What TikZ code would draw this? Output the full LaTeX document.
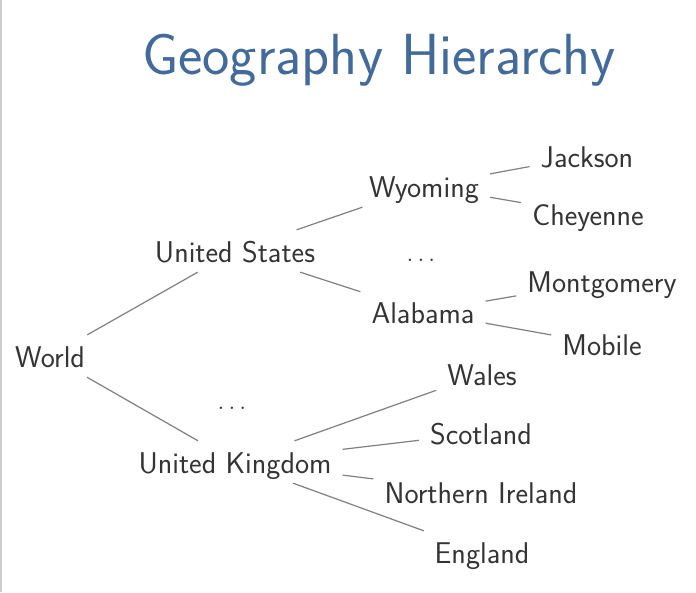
\documentclass[tikz,border=0pt]{standalone}
\definecolor{titleblue}{RGB}{66,106,154}
\definecolor{nodetext}{RGB}{52,52,52}
\definecolor{edgegray}{RGB}{128,128,128}
\definecolor{framegray}{RGB}{205,205,205}
\begin{document}
\begin{tikzpicture}[x=1pt,y=-1pt,
  place/.style={anchor=base,text=nodetext,font=\sffamily\fontsize{30}{36}\selectfont,
    text height=22pt,text depth=0pt,inner xsep=11pt,inner ysep=10pt},
  link/.style={draw=edgegray,line width=1.2pt},
  titletext/.style={anchor=base,text=titleblue,font=\sffamily\fontsize{58}{66}\selectfont,inner sep=0pt}]
\useasboundingbox (0,0) rectangle (696,592);
\fill[white] (0,0) rectangle (696,592);
\draw[framegray,line width=1.5pt] (0.75,0) -- (0.75,592);
\node[titletext] (title) at (379,74) {Geography Hierarchy};
% nodes
\node[place] (world) at (50,367) {World};
\node[place] (us) at (235,262) {United States};
\node[place] (uk) at (235,473) {United Kingdom};
\node[place] (dotsA) at (232,409) {$\ldots$};
\node[place] (wy) at (424,197) {Wyoming};
\node[place] (al) at (423,323) {Alabama};
\node[place] (dotsB) at (421,261) {$\ldots$};
\node[place] (jack) at (587,167) {Jackson};
\node[place] (chey) at (588,225) {Cheyenne};
\node[place] (mont) at (602,292) {Montgomery};
\node[place] (mob) at (602,355) {Mobile};
\node[place] (wal) at (482,385) {Wales};
\node[place] (sco) at (481,444) {Scotland};
\node[place] (nir) at (481,503) {Northern Ireland};
\node[place] (eng) at (482,563) {England};
% connectors
\draw[link] (world) -- (us);
\draw[link] (world) -- (uk);
\draw[link] (us) -- (wy);
\draw[link] (us) -- (al);
\draw[link] (wy) -- (jack);
\draw[link] (wy) -- (chey);
\draw[link] (al) -- (mont);
\draw[link] (al) -- (mob);
\draw[link] (uk) -- (wal);
\draw[link] (uk) -- (sco);
\draw[link] (uk) -- (nir);
\draw[link] (uk) -- (eng);
\end{tikzpicture}
\end{document}
